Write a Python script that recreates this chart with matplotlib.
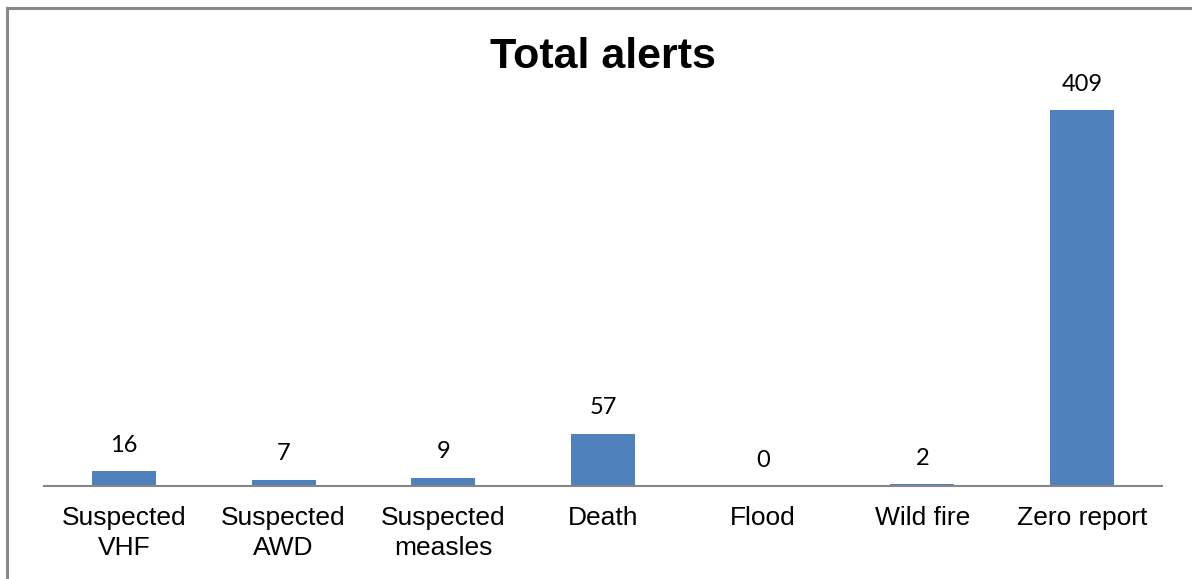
import matplotlib.pyplot as plt
from matplotlib.lines import Line2D

# Alert counts per category
categories = ['Suspected\nVHF', 'Suspected\nAWD', 'Suspected\nmeasles', 'Death',
              'Flood', 'Wild fire', 'Zero report']
alerts = [16, 7, 9, 57, 0, 2, 409]

W, H = 1192, 579
fig = plt.figure(figsize=(W / 100, H / 100), dpi=100)

# Outer frame (top and left edges only)
fig.add_artist(Line2D([7 / W, 1.0], [1 - 8 / H, 1 - 8 / H], color='#898989', lw=2.2))
fig.add_artist(Line2D([7 / W, 7 / W], [0.0, 1 - 8 / H], color='#898989', lw=2.2))

ax = fig.add_axes([44 / W, (H - 486) / H, 1118 / W, 386 / H])
x = range(len(categories))
ax.bar(x, alerts, width=0.4, color='#4F81BD')
ax.set_xlim(-0.5, len(categories) - 0.5)
ax.set_ylim(0, 420)

for xi, v in zip(x, alerts):
    ax.annotate(str(v), (xi, v), xytext=(0, 11), textcoords='offset points',
                ha='center', va='bottom', fontsize=17, family='Lato')

for side in ['top', 'right', 'left']:
    ax.spines[side].set_visible(False)
ax.spines['bottom'].set_color('#868686')
ax.spines['bottom'].set_linewidth(1.5)
ax.set_yticks([])
ax.set_xticks(list(x))
ax.set_xticklabels(categories, fontsize=19, family='Liberation Sans', linespacing=1.33)
ax.tick_params(axis='x', length=0, pad=14.5)

fig.text(603 / W, 1 - 57 / H, 'Total alerts', ha='center', va='center',
         fontsize=31, fontweight='bold', family='Liberation Sans')

fig.savefig('out.png', dpi=100)
